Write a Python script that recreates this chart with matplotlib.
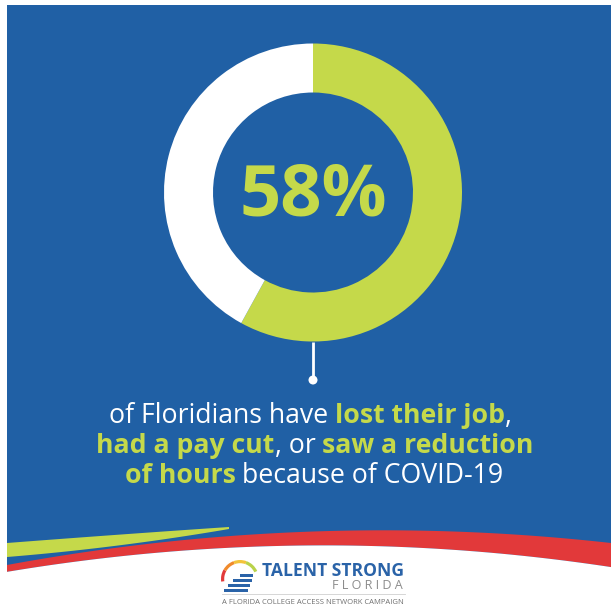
import matplotlib
matplotlib.use("Agg")
import matplotlib.pyplot as plt
import numpy as np
from matplotlib.patches import Rectangle, Polygon, Circle, Wedge

# ---------------- data ----------------
share_labels = ["Lost job / pay cut / fewer hours", "Not affected"]
share_values = [58, 42]
headline = "58%"
caption_lines = [
    [("of Floridians have ", False), ("lost their job", True), (",", False)],
    [("had a pay cut", True), (", or ", False), ("saw a reduction", True)],
    [("of hours", True), (" because of COVID-19", False)],
]
logo_title = "TALENT STRONG"
logo_sub = "FLORIDA"
logo_tag = "A FLORIDA COLLEGE ACCESS NETWORK CAMPAIGN"

# ---------------- style ----------------
W, H, DPI = 611, 607, 100
BLUE = "#2060A5"
GREEN = "#C5D94A"
RED = "#E2393A"
WHITE = "#FFFFFF"
FONT = "Open Sans"

def Y(py):
    return H - py

fig = plt.figure(figsize=(W / DPI, H / DPI), dpi=DPI)
fig.patch.set_facecolor("white")
ax = fig.add_axes([0, 0, 1, 1])

# background panel
ax.add_patch(Rectangle((7, Y(607)), W - 7, 607 - 5, facecolor=BLUE, edgecolor="none", zorder=0))

xs = np.linspace(7, W, 200)
# red band
red_top = np.polyval(np.polyfit([7, 300, 611], [565, 532, 543], 2), xs)
red_bot = np.polyval(np.polyfit([7, 200, 350, 611], [572, 549, 546, 567], 2), xs)
ax.add_patch(Polygon(np.column_stack([np.r_[xs, xs[::-1]], Y(np.r_[red_top, red_bot[::-1]])]),
                     closed=True, facecolor=RED, edgecolor="none", zorder=0.5))
# white bottom
ax.add_patch(Polygon(np.column_stack([np.r_[xs, W, 7], Y(np.r_[red_bot, 607, 607])]),
                     closed=True, facecolor="white", edgecolor="none", zorder=0.6))
ax.add_patch(Rectangle((0, 0), 7, H, facecolor="white", edgecolor="none", zorder=0.7))
# green stripe
gx = np.linspace(7, 229, 100)
g_top = np.polyval(np.polyfit([7, 80, 229], [543, 537.5, 527], 2), gx)
g_bot = np.polyval(np.polyfit([7, 80, 229], [557, 550, 529], 2), gx)
ax.add_patch(Polygon(np.column_stack([np.r_[gx, gx[::-1]], Y(np.r_[g_top, g_bot[::-1]])]),
                     closed=True, facecolor=GREEN, edgecolor="none", zorder=0.55))

# donut
cx, cy, R = 313, 192.5, 149
ax.pie(share_values, colors=[GREEN, WHITE], startangle=90, counterclock=False,
       radius=R, center=(cx, Y(cy)), frame=True,
       wedgeprops=dict(width=49, linewidth=0))

# stem + dot
ax.plot([cx, cx], [Y(cy + R), Y(380)], color="white", lw=2, solid_capstyle="butt", zorder=3)
ax.add_patch(Circle((cx, Y(380)), 4.5, facecolor="white", edgecolor="none", zorder=3))

ax.set_xlim(0, W)
ax.set_ylim(0, H)
ax.set_aspect("auto")
ax.axis("off")

# headline
ax.text(cx, Y(215), headline, ha="center", va="baseline", color=GREEN,
        fontsize=52, fontweight="bold", family=FONT, zorder=4)

renderer = fig.canvas.get_renderer()

def width_of(s, bold, size):
    t = ax.text(0, 0, s, fontsize=size, fontweight="bold" if bold else "normal", family=FONT)
    w = t.get_window_extent(renderer).width
    t.remove()
    return w

CAP_SIZE = 19.2
space_w = {b: width_of("n n", b, CAP_SIZE) - width_of("nn", b, CAP_SIZE) for b in (False, True)}

baselines = [423, 453, 483]
centers = [310, 315, 314]
for line, base, cxl in zip(caption_lines, baselines, centers):
    pieces = []
    total = 0
    for txt, bold in line:
        lead = len(txt) - len(txt.lstrip(" "))
        trail = len(txt) - len(txt.rstrip(" "))
        core = txt.strip(" ")
        w = width_of(core, bold, CAP_SIZE)
        pieces.append((lead * space_w[bold], core, bold, w, trail * space_w[bold]))
        total += lead * space_w[bold] + w + trail * space_w[bold]
    x = cxl - total / 2
    for lead, core, bold, w, trail in pieces:
        x += lead
        ax.text(x, Y(base), core, ha="left", va="baseline", fontsize=CAP_SIZE,
                fontweight="bold" if bold else "normal", family=FONT,
                color=GREEN if bold else WHITE, zorder=4)
        x += w + trail

# ---------------- logo ----------------
def fit(s, bold, target_w, base=10):
    return base * target_w / width_of(s, bold, base)

LOGO_BLUE = "#2A63A8"
ax.text(262, Y(576), logo_title, ha="left", va="baseline", color=LOGO_BLUE,
        fontsize=fit(logo_title, True, 141), fontweight="bold", family=FONT, zorder=4)
sub = " ".join(logo_sub)
ax.text(403, Y(589), sub, ha="right", va="baseline", color="#8C8C8C",
        fontsize=fit(sub, False, 71), family=FONT, zorder=4)
ax.plot([222, 405], [Y(593.5), Y(593.5)], color="#D0D0D0", lw=0.6, zorder=4)
ax.text(313, Y(604), logo_tag, ha="center", va="baseline", color="#707070",
        fontsize=fit(logo_tag, False, 183), family=FONT, zorder=4)

# rainbow arc
arc_c = (240, Y(579))
for t1, t2, c in [(150, 188, "#E2393A"), (110, 150, "#F08A2C"), (70, 110, "#F3C33A"), (25, 70, "#B9D24A")]:
    ax.add_patch(Wedge(arc_c, 19, t1, t2, width=3.2, facecolor=c, edgecolor="none", zorder=4))
# stairs
for x0, x1, yy in [(240, 253, 574), (233, 252, 579), (228, 250, 584), (224, 248, 589)]:
    ax.add_patch(Rectangle((x0, Y(yy + 2.6)), x1 - x0, 2.6, facecolor=LOGO_BLUE, edgecolor="none", zorder=4))

fig.savefig("out.png", dpi=DPI, facecolor=fig.get_facecolor())
